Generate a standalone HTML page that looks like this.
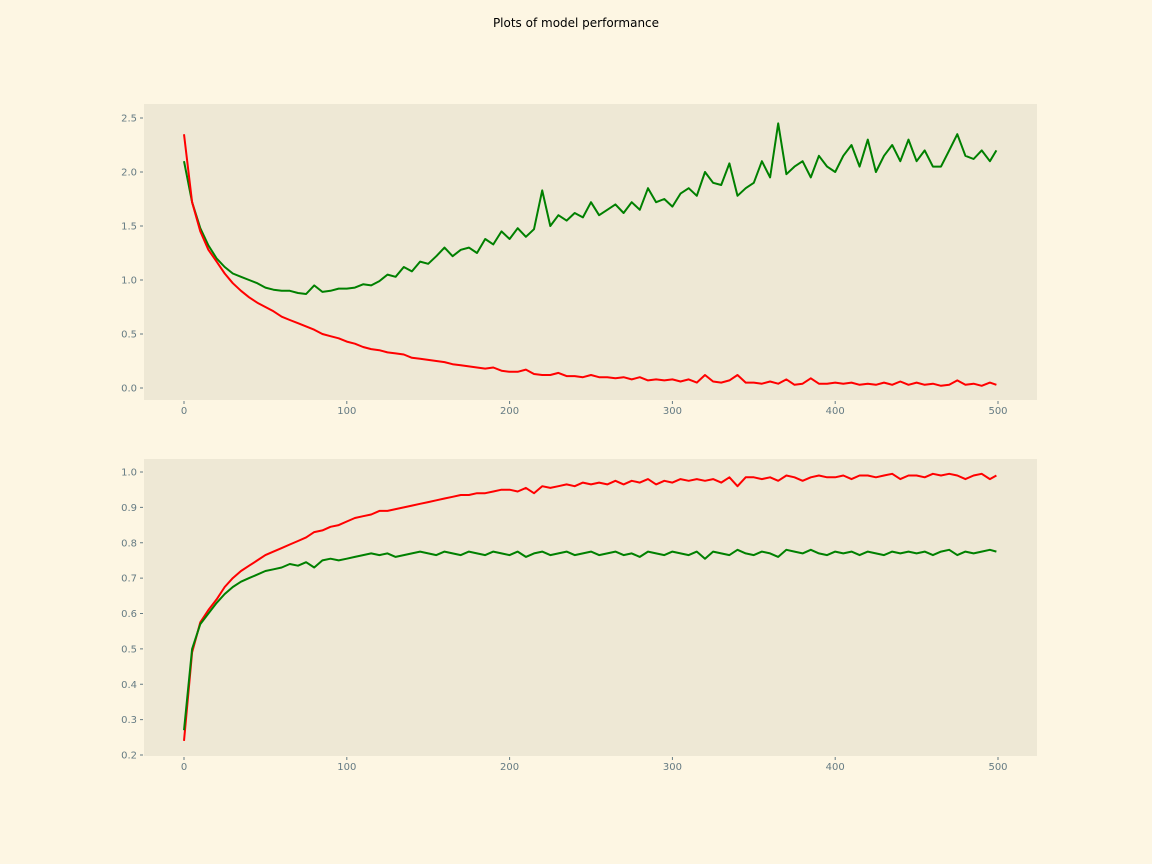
<!DOCTYPE html>
<html><head><meta charset="utf-8"><style>
html,body{margin:0;padding:0;background:#fdf6e3;overflow:hidden;width:1152px;height:864px;}
svg{display:block;}
svg text{font-family:"DejaVu Sans","Liberation Sans",sans-serif;}
</style></head><body>
<svg id="chart" width="1152" height="864" xmlns="http://www.w3.org/2000/svg">
<rect width="1152" height="864" fill="#fdf6e3"/>
<text x="576" y="27" text-anchor="middle" font-size="12" fill="#000">Plots of model performance</text>
<g id="top"></g>
<g id="bottom"></g>
</svg>
<script>
const epochs = [];
for (let e = 0; e <= 495; e += 5) epochs.push(e);
epochs.push(499);
const xTicks = [0, 100, 200, 300, 400, 500];
const lossYTicks = ["0.0","0.5","1.0","1.5","2.0","2.5"];
const accYTicks = ["0.2","0.3","0.4","0.5","0.6","0.7","0.8","0.9","1.0"];
const lossGreen = [2.1,1.72,1.48,1.32,1.2,1.12,1.06,1.03,1.0,0.97,
0.93,0.91,0.9,0.9,0.88,0.87,0.95,0.89,0.9,0.92,
0.92,0.93,0.96,0.95,0.99,1.05,1.03,1.12,1.08,1.17,
1.15,1.22,1.3,1.22,1.28,1.3,1.25,1.38,1.33,1.45,
1.38,1.48,1.4,1.47,1.83,1.5,1.6,1.55,1.62,1.58,
1.72,1.6,1.65,1.7,1.62,1.72,1.65,1.85,1.72,1.75,
1.68,1.8,1.85,1.78,2.0,1.9,1.88,2.08,1.78,1.85,
1.9,2.1,1.95,2.45,1.98,2.05,2.1,1.95,2.15,2.05,
2.0,2.15,2.25,2.05,2.3,2.0,2.15,2.25,2.1,2.3,
2.1,2.2,2.05,2.05,2.2,2.35,2.15,2.12,2.2,2.1,2.2];
const lossRed = [2.35,1.72,1.45,1.28,1.17,1.06,0.97,0.9,0.84,0.79,
0.75,0.71,0.66,0.63,0.6,0.57,0.54,0.5,0.48,0.46,
0.43,0.41,0.38,0.36,0.35,0.33,0.32,0.31,0.28,0.27,
0.26,0.25,0.24,0.22,0.21,0.2,0.19,0.18,0.19,0.16,
0.15,0.15,0.17,0.13,0.12,0.12,0.14,0.11,0.11,0.1,
0.12,0.1,0.1,0.09,0.1,0.08,0.1,0.07,0.08,0.07,
0.08,0.06,0.08,0.05,0.12,0.06,0.05,0.07,0.12,0.05,
0.05,0.04,0.06,0.04,0.08,0.03,0.04,0.09,0.04,0.04,
0.05,0.04,0.05,0.03,0.04,0.03,0.05,0.03,0.06,0.03,
0.05,0.03,0.04,0.02,0.03,0.07,0.03,0.04,0.02,0.05,0.03];
const accRed = [0.24,0.49,0.575,0.61,0.64,0.675,0.7,0.72,0.735,0.75,
0.765,0.775,0.785,0.795,0.805,0.815,0.83,0.835,0.845,0.85,
0.86,0.87,0.875,0.88,0.89,0.89,0.895,0.9,0.905,0.91,
0.915,0.92,0.925,0.93,0.935,0.935,0.94,0.94,0.945,0.95,
0.95,0.945,0.955,0.94,0.96,0.955,0.96,0.965,0.96,0.97,
0.965,0.97,0.965,0.975,0.965,0.975,0.97,0.98,0.965,0.975,
0.97,0.98,0.975,0.98,0.975,0.98,0.97,0.985,0.96,0.985,
0.985,0.98,0.985,0.975,0.99,0.985,0.975,0.985,0.99,0.985,
0.985,0.99,0.98,0.99,0.99,0.985,0.99,0.995,0.98,0.99,
0.99,0.985,0.995,0.99,0.995,0.99,0.98,0.99,0.995,0.98,0.99];
const accGreen = [0.27,0.5,0.57,0.6,0.63,0.655,0.675,0.69,0.7,0.71,
0.72,0.725,0.73,0.74,0.735,0.745,0.73,0.75,0.755,0.75,
0.755,0.76,0.765,0.77,0.765,0.77,0.76,0.765,0.77,0.775,
0.77,0.765,0.775,0.77,0.765,0.775,0.77,0.765,0.775,0.77,
0.765,0.775,0.76,0.77,0.775,0.765,0.77,0.775,0.765,0.77,
0.775,0.765,0.77,0.775,0.765,0.77,0.76,0.775,0.77,0.765,
0.775,0.77,0.765,0.775,0.755,0.775,0.77,0.765,0.78,0.77,
0.765,0.775,0.77,0.76,0.78,0.775,0.77,0.78,0.77,0.765,
0.775,0.77,0.775,0.765,0.775,0.77,0.765,0.775,0.77,0.775,
0.77,0.775,0.765,0.775,0.78,0.765,0.775,0.77,0.775,0.78,0.775];

const NS = "http://www.w3.org/2000/svg";
function mk(tag, attrs, parent) {
  const el = document.createElementNS(NS, tag);
  for (const k in attrs) el.setAttribute(k, attrs[k]);
  parent.appendChild(el);
  return el;
}
function panel(g, box, yMin, yMax, yTicks, series, name) {
  const xS = v => 184 + (v / 500) * 814;
  const yS = v => box.y0v - (v - yMin) / (yMax - yMin) * (box.y0v - box.y1v);
  const bg = mk("rect", {x: 144, y: box.top, width: 893, height: box.bottom - box.top, fill: "#eee8d5"}, g);
  
  
  yTicks.forEach(t => {
    const y = yS(parseFloat(t));
    const tk = mk("line", {x1: 140, x2: 143, y1: y, y2: y, stroke: "#657b83", "stroke-width": 1}, g);
    
    
    const tx = mk("text", {x: 137, y: y + 3.5, "text-anchor": "end", "font-size": "10", fill: "#657b83"}, g);
    tx.textContent = t;
    
    
  });
  xTicks.forEach(t => {
    const x = xS(t);
    const tk = mk("line", {x1: x, x2: x, y1: box.bottom + 1, y2: box.bottom + 4, stroke: "#657b83", "stroke-width": 1}, g);
    
    
    const tx = mk("text", {x: x, y: box.bottom + 14, "text-anchor": "middle", "font-size": "10", fill: "#657b83"}, g);
    tx.textContent = String(t);
    
    
  });
  series.forEach(s => {
    const d = s.values.map((v, i) => (i ? "L" : "M") + xS(epochs[i]).toFixed(1) + "," + yS(v).toFixed(1)).join("");
    const p = mk("path", {d: d, fill: "none", stroke: s.color, "stroke-width": 2, "stroke-linejoin": "round"}, g);
    
    
  });
}
panel(document.getElementById("top"), {top: 104, bottom: 400, y0v: 388, y1v: 118}, 0, 2.5, lossYTicks,
  [{values: lossGreen, color: "#008000", name: "val-loss-line"}, {values: lossRed, color: "#ff0000", name: "train-loss-line"}], "loss");
panel(document.getElementById("bottom"), {top: 459, bottom: 756, y0v: 755, y1v: 472}, 0.2, 1.0, accYTicks,
  [{values: accRed, color: "#ff0000", name: "train-accuracy-line"}, {values: accGreen, color: "#008000", name: "val-accuracy-line"}], "accuracy");
</script>
</body></html>
